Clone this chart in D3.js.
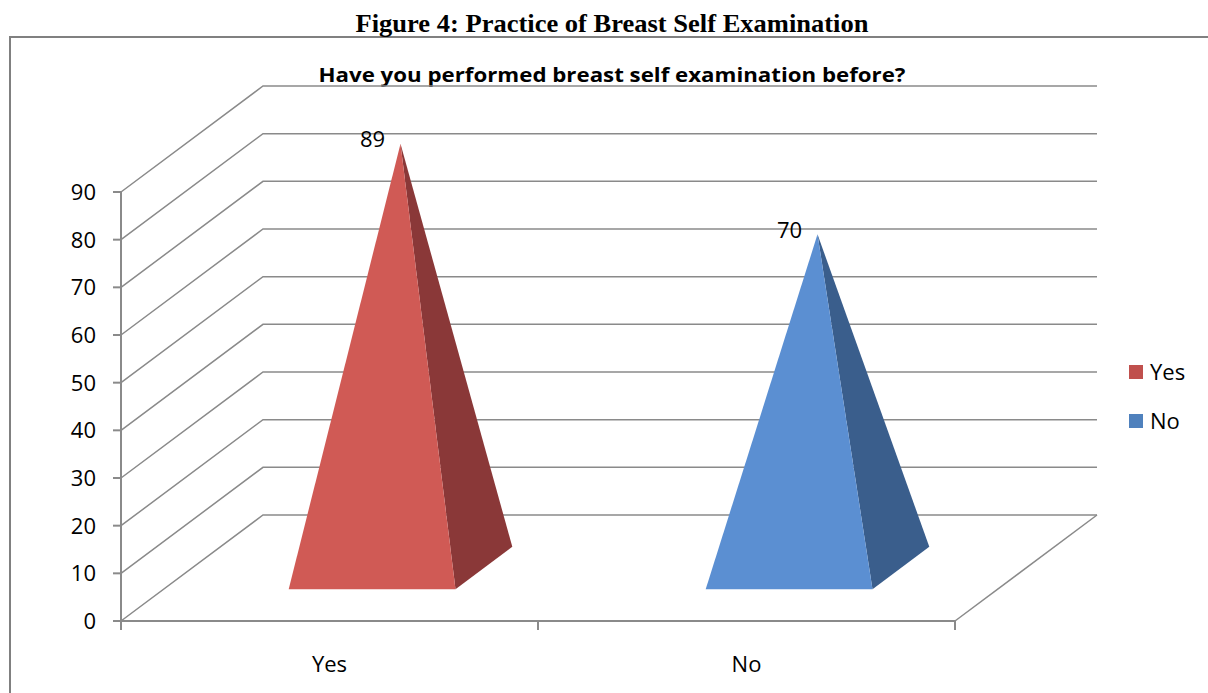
<!DOCTYPE html>
<html><head><meta charset="utf-8">
<script src="https://cdn.jsdelivr.net/npm/d3@7"></script>
<style>body{margin:0;background:#fff}svg{display:block}</style>
</head><body>
<script>
const categories = ["Yes", "No"];
const values = [89, 70];
const yTicks = [0,10,20,30,40,50,60,70,80,90];
const figureTitle = "Figure 4: Practice of Breast Self Examination";
const chartTitle = "Have you performed breast self examination before?";
const frontColors = ["#D05A55", "#5B8FD2"];
const sideColors = ["#8A3838", "#3A5E8C"];
const legendColors = ["#C0504D", "#4F81BD"];

const W = 1208, H = 693;
const svg = d3.select("body").append("svg").attr("width", W).attr("height", H);
const font = "'Open Sans', 'Noto Sans', sans-serif";
const grid = "#8a8a8a";

// depth offset (front plane -> back plane)
const DX = 142, DY = -106;
const x0 = 121, x1 = 955;
const y = d3.scaleLinear().domain([0, 90]).range([621, 192]);
const x = d3.scaleBand().domain(categories).range([x0, x1]);

// outer frame
svg.append("path").attr("d", `M10,693 L10,37 L1208,37`).attr("fill","none")
  .attr("stroke","#808080").attr("stroke-width",2);

// titles
svg.append("text").attr("x", 612).attr("y", 32).attr("text-anchor","middle")
  .attr("font-family","'Liberation Serif','Times New Roman',serif").attr("font-weight","bold")
  .attr("font-size", 25).attr("textLength", 513).attr("lengthAdjust","spacingAndGlyphs")
  .attr("fill","#000").text(figureTitle);
svg.append("text").attr("x", 612).attr("y", 82).attr("text-anchor","middle")
  .attr("font-family", font).attr("font-weight","bold")
  .attr("font-size", 20).attr("textLength", 587).attr("lengthAdjust","spacingAndGlyphs")
  .attr("fill","#000").text(chartTitle);

const g = svg.append("g");
// back wall gridlines & side wall diagonals
yTicks.forEach(t => {
  const yf = y(t);
  g.append("path").attr("d", `M${x0},${yf} L${x0+DX},${yf+DY} L${x1+DX},${yf+DY}`)
    .attr("fill","none").attr("stroke",grid).attr("stroke-width",1.5);
});
// floor
g.append("path").attr("d", `M${x1+DX},${y(0)+DY} L${x1},${y(0)}`)
  .attr("fill","none").attr("stroke",grid).attr("stroke-width",1.5);
// front axes
g.append("path").attr("d", `M${x0},${y(90)} L${x0},${y(0)} L${x1},${y(0)}`)
  .attr("fill","none").attr("stroke",grid).attr("stroke-width",2);
// y ticks
yTicks.forEach(t => {
  g.append("line").attr("x1", x0-8).attr("x2", x0).attr("y1", y(t)).attr("y2", y(t))
    .attr("stroke",grid).attr("stroke-width",2);
  g.append("text").attr("x", 96).attr("y", y(t)+8).attr("text-anchor","end")
    .attr("font-family",font).attr("font-size",22).attr("fill","#000").text(t);
});
// x ticks
[x0, ...categories.map(c => x(c) + x.bandwidth())].forEach(xx => {
  g.append("line").attr("x1", xx).attr("x2", xx).attr("y1", y(0)).attr("y2", y(0)+9)
    .attr("stroke",grid).attr("stroke-width",2);
});
categories.forEach(c => {
  g.append("text").attr("x", x(c) + x.bandwidth()/2).attr("y", 672).attr("text-anchor","middle")
    .attr("font-family",font).attr("font-size",22).attr("fill","#000").text(c);
});

// pyramids
const barW = x.bandwidth() / 2.5;
const dStart = 0.3, dEnd = 0.7; // base spans 0.3..0.7 of depth
categories.forEach((c, i) => {
  const cx = x(c) + x.bandwidth()/2;
  const left = cx - barW/2, right = cx + barW/2;
  const fy = y(0) + DY*dStart, fxo = DX*dStart;
  const by = y(0) + DY*dEnd, bxo = DX*dEnd;
  const ax = cx + DX*0.5, ay = y(values[i]) + DY*0.5;
  const fl = [left + fxo, fy], fr = [right + fxo, fy], br = [right + bxo, by];
  g.append("path").attr("d", `M${fr} L${br} L${ax},${ay} Z`).attr("fill", sideColors[i]);
  g.append("path").attr("d", `M${fl} L${fr} L${ax},${ay} Z`).attr("fill", frontColors[i]);
  g.append("text").attr("x", ax - 28).attr("y", ay + 3.5).attr("text-anchor","middle")
    .attr("font-family",font).attr("font-size",22).attr("fill","#000").text(values[i]);
});

// legend
categories.forEach((c, i) => {
  const ly = 365 + i*49;
  svg.append("rect").attr("x",1129).attr("y",ly).attr("width",14).attr("height",14)
    .attr("fill", legendColors[i]);
  svg.append("text").attr("x",1150).attr("y",ly+14.5).attr("font-family",font)
    .attr("font-size",22).attr("fill","#000").text(c);
});
</script>
</body></html>
